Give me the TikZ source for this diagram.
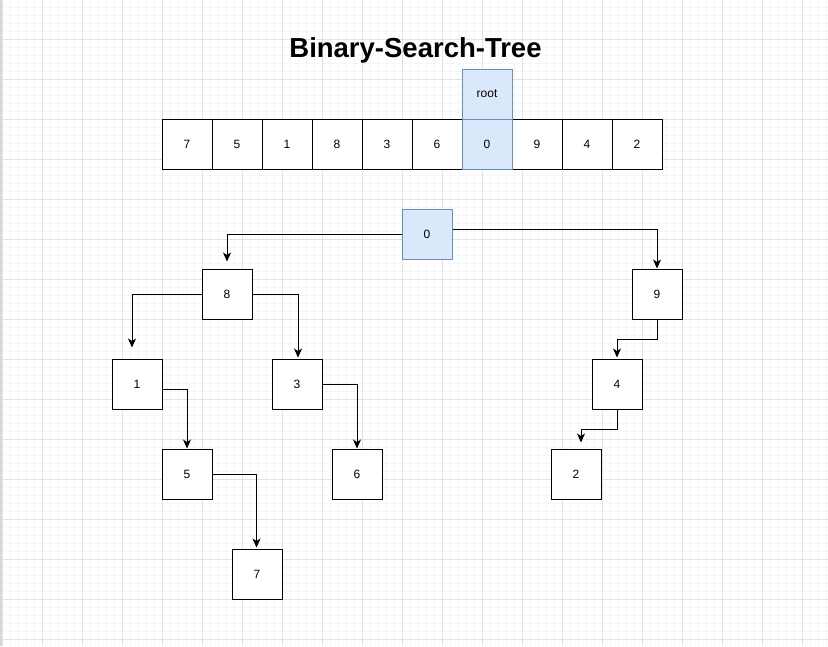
\documentclass[tikz,border=0pt]{standalone}
\usepackage{fontspec}
\setmainfont{Liberation Sans}
\usetikzlibrary{arrows.meta}
\definecolor{gridmajor}{HTML}{E2E2E2}
\definecolor{gridminor}{HTML}{F6F6F6}
\definecolor{rootfill}{HTML}{DAE8FC}
\definecolor{rootline}{HTML}{6C8EBF}
\begin{document}
\begin{tikzpicture}[x=1pt,y=-1pt,
  cell/.style={draw=black,line width=1pt,fill=white,minimum size=50pt,inner sep=0pt,font=\fontsize{12}{14}\selectfont},
  rootcell/.style={cell,draw=rootline,fill=rootfill},
  link/.style={draw=black,line width=1pt,-{Stealth[length=9pt,width=8pt,inset=2.5pt]}}]
\useasboundingbox (0,0) rectangle (828,646);
\fill[white] (0,0) rectangle (828,646);
% grid
\foreach \x in {2,10,...,826} \draw[gridminor,line width=1pt] (\x,0) -- (\x,646);
\foreach \y in {7,15,...,645} \draw[gridminor,line width=1pt] (0,\y) -- (828,\y);
\foreach \x in {2,42,...,826} \draw[gridmajor,line width=1pt] (\x,0) -- (\x,646);
\foreach \y in {39,79,...,645} \draw[gridmajor,line width=1pt] (0,\y) -- (828,\y);
\draw[gray!30,line width=2pt] (1,0) -- (1,646);
% title
\node (title) at (415.5,50) {\bfseries\fontsize{27.5}{30}\selectfont Binary-Search-Tree};
% array
\node[cell] (a1) at (187,144) {7};
\node[cell] (a2) at (237,144) {5};
\node[cell] (a3) at (287,144) {1};
\node[cell] (a4) at (337,144) {8};
\node[cell] (a5) at (387,144) {3};
\node[cell] (a6) at (437,144) {6};
\node[cell] (a8) at (537,144) {9};
\node[cell] (a9) at (587,144) {4};
\node[cell] (a10) at (637,144) {2};
\node[rootcell] (a7) at (487,144) {0};
\node[rootcell] (root) at (487,94) {root};
% tree
\node[rootcell] (n0) at (427,234) {0};
\node[cell] (n8) at (227,294) {8};
\node[cell] (n9) at (657,294) {9};
\node[cell] (n1) at (137,384) {1};
\node[cell] (n3) at (297,384) {3};
\node[cell] (n4) at (617,384) {4};
\node[cell] (n5) at (187,474) {5};
\node[cell] (n6) at (357,474) {6};
\node[cell] (n2) at (576,474) {2};
\node[cell] (n7) at (257,574) {7};
% links
\draw[link,shorten >=7pt] (n0.west) -| (n8.north);
\draw[link] ([yshift=5pt]n0.east) -| (n9.north);
\draw[link,shorten >=11pt] (n8.west) -| ([xshift=-5pt]n1.north);
\draw[link,shorten >=1pt] (n8.east) -| ([xshift=1pt]n3.north);
\draw[link] ([yshift=-5pt]n1.east) -| (n5.north);
\draw[link] (n3.east) -| (n6.north);
\draw[link,shorten >=1pt] (n5.east) -| ([xshift=-0.5pt]n7.north);
\draw[link,shorten >=1pt] (n9.south) -- ++(0,20) -| (n4.north);
\draw[link,shorten >=6pt] (n4.south) -- ++(0,20) -| ([xshift=5pt]n2.north);
\end{tikzpicture}
\end{document}
